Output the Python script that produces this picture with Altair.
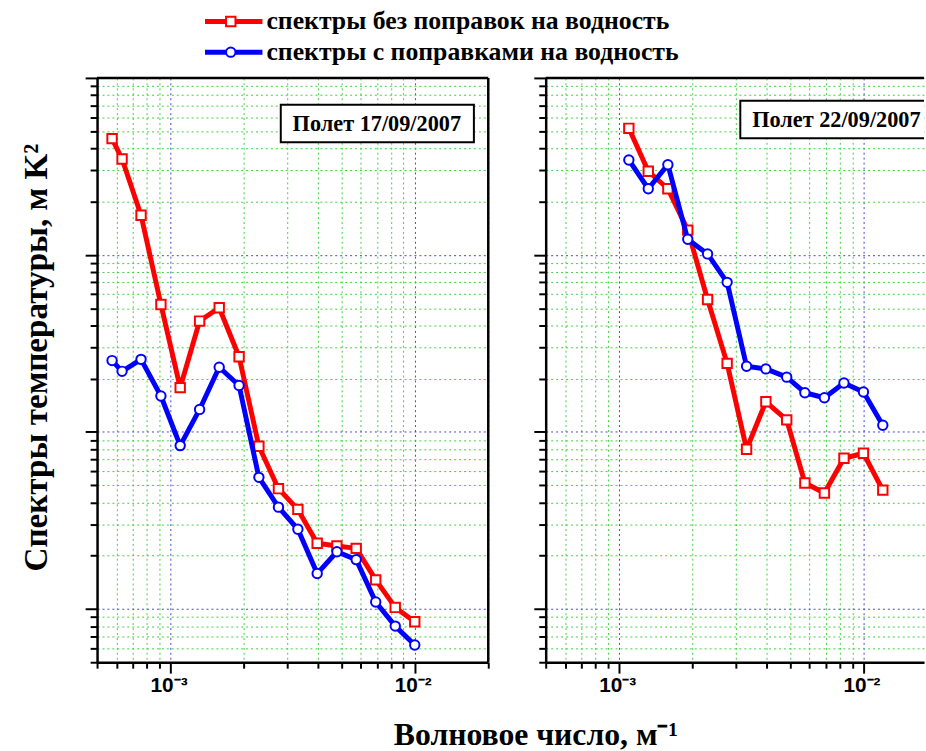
import altair as alt
import pandas as pd

# ---------------- data ----------------
series_names = ["спектры без поправок на водность", "спектры с поправками на водность"]
series_colors = ["#ff0000", "#0000ff"]
series_shapes = ["square", "circle"]
legend_rows = [0, 1]
panel_titles = ["Полет 17/09/2007", "Полет 22/09/2007"]

k_left = [5.76e-4, 6.33e-4, 7.57e-4, 9.13e-4, 1.095e-3, 1.315e-3, 1.582e-3, 1.908e-3,
          2.30e-3, 2.766e-3, 3.322e-3, 3.985e-3, 4.80e-3, 5.757e-3, 6.92e-3, 8.32e-3, 1.0e-2]
red_left = [454, 348, 167.5, 52.5, 17.8, 42.3, 50.3, 26.6, 8.3, 4.78, 3.65, 2.35, 2.27,
            2.20, 1.46, 1.02, 0.846]
blue_left = [25.3, 22.0, 25.7, 15.96, 8.37, 13.4, 23.2, 18.3, 5.54, 3.76, 2.82, 1.585,
             2.105, 1.90, 1.094, 0.80, 0.626]

k_right = [1.095e-3, 1.315e-3, 1.582e-3, 1.908e-3, 2.30e-3, 2.766e-3, 3.322e-3, 3.985e-3,
           4.85e-3, 5.757e-3, 6.92e-3, 8.32e-3, 1.0e-2, 1.2e-2]
red_right = [519, 297, 236.5, 138, 56, 24.4, 7.98, 14.8, 11.7, 5.15, 4.52, 7.1, 7.58, 4.69]
blue_right = [344, 236.5, 323.5, 122.5, 101.3, 70, 23.5, 22.7, 20.4, 16.65, 15.6, 18.9, 16.8, 10.9]

x_ticks_left = [5e-4, 6e-4, 7e-4, 8e-4, 9e-4, 1e-3, 2e-3, 3e-3, 4e-3, 5e-3, 6e-3, 7e-3,
                8e-3, 9e-3, 1e-2, 2e-2]
x_ticks_right = [5e-4, 6e-4, 7e-4, 8e-4, 9e-4, 1e-3, 2e-3, 3e-3, 4e-3, 5e-3, 6e-3, 7e-3,
                 8e-3, 9e-3, 1e-2]
y_ticks = [0.5, 0.6, 0.7, 0.8, 0.9, 1, 2, 3, 4, 5, 6, 7, 8, 9, 10, 20, 30, 40, 50, 60, 70,
           80, 90, 100, 200, 300, 400, 500, 600, 700, 800, 900, 1000]
x_label_text = {"0.001": "10⁻³", "0.01": "10⁻²"}

y_title = "Спектры температуры, м K²"
x_title = "Волновое число, м⁻¹"

# ---------------- layout ----------------
PAD_L = 19
PLOT_L = 94          # absolute x of the left plot area
PANEL_H = 590
LEFT_W = 395
RIGHT_W = 382
SERIF = "Liberation Serif"
SANS = "Liberation Sans"

X_MAJOR = "datum.value == 0.001 || datum.value == 0.01"
Y_MAJOR = "datum.value == 1 || datum.value == 10 || datum.value == 100 || datum.value == 1000"
GRID_MINOR = "#3fd03f"
GRID_MAJOR = "#4545d8"

label_expr = ("datum.value == 0.001 ? '" + x_label_text["0.001"] + "' : "
              "(datum.value == 0.01 ? '" + x_label_text["0.01"] + "' : '')")


def x_axis(vals):
    return alt.Axis(
        values=vals, labelExpr=label_expr, labelFont=SANS, labelFontWeight="bold",
        labelFontSize=21, labelColor="black", labelPadding=2, labelOverlap=False,
        labelFlush=False, labelBound=False, labelOffset=-2,
        tickColor="black", tickWidth=2,
        tickSize={"condition": {"test": X_MAJOR, "value": 11}, "value": 6},
        domainColor="black", domainWidth=2.5,
        grid=True, gridWidth=1, gridDash=[2, 3],
        gridColor={"condition": {"test": X_MAJOR, "value": GRID_MAJOR}, "value": GRID_MINOR},
        title=None,
    )


def y_axis(with_title):
    kw = dict(
        values=y_ticks, labels=False,
        tickColor="black", tickWidth=2,
        tickSize={"condition": {"test": Y_MAJOR, "value": 12}, "value": 7},
        domainColor="black", domainWidth=2.5,
        grid=True, gridWidth=1, gridDash=[2, 3],
        gridColor={"condition": {"test": Y_MAJOR, "value": GRID_MAJOR}, "value": GRID_MINOR},
    )
    if with_title:
        kw.update(title=y_title, titleFont=SERIF, titleFontSize=33.5, titleFontWeight="bold",
                  titleColor="black", titleAngle=270, titleX=-61, titleY=282,
                  titleAlign="center", titleBaseline="middle")
    else:
        kw.update(title=None)
    return alt.Axis(**kw)


def panel(ks, reds, blues, xmax, xvals, width, with_ytitle, title_text, box_x, box_y, clip):
    df = pd.DataFrame({
        "k": ks + ks,
        "S": reds + blues,
        "series": [series_names[0]] * len(ks) + [series_names[1]] * len(ks),
    })
    x = alt.X("k:Q", scale=alt.Scale(type="log", domain=[5e-4, xmax]), axis=x_axis(xvals))
    y = alt.Y("S:Q", scale=alt.Scale(type="log", domain=[0.5, 1000]), axis=y_axis(with_ytitle))
    base = alt.Chart(df)
    layers = []
    for name, col, shp in zip(series_names, series_colors, series_shapes):
        sub = base.transform_filter(alt.datum.series == name)
        layers.append(sub.mark_line(color=col, strokeWidth=5, strokeJoin="round").encode(x=x, y=y))
        layers.append(sub.mark_point(shape=shp, size=90, filled=True, fill="white", stroke=col,
                                     strokeWidth=2, opacity=1).encode(x=x, y=y))
    tdf = pd.DataFrame({"label": [title_text]})
    tb = alt.Chart(tdf)
    box = tb.mark_rect(fill="white", stroke="black", strokeWidth=2, clip=clip).encode(
        x=alt.value(box_x - 97), x2=alt.value(box_x + 98),
        y=alt.value(box_y - 19), y2=alt.value(box_y + 19))
    txt = tb.mark_text(font=SERIF, fontSize=22.5, fontWeight="bold", color="black",
                       align="center", baseline="middle", clip=clip).encode(
        x=alt.value(box_x), y=alt.value(box_y + 1), text="label:N")
    frame = [tb.mark_rule(color="black", strokeWidth=2.5).encode(
        x=alt.value(0), x2=alt.value(width), y=alt.value(0))]
    if not clip:
        frame.append(tb.mark_rule(color="black", strokeWidth=2.5).encode(
            x=alt.value(width), y=alt.value(0), y2=alt.value(PANEL_H)))
    return alt.layer(*layers, box, txt, *frame).properties(width=width, height=PANEL_H)


left = panel(k_left, red_left, blue_left, 2e-2, x_ticks_left, LEFT_W, True, panel_titles[0],
             282.5, 46, False)
right = panel(k_right, red_right, blue_right, 0.0177, x_ticks_right, RIGHT_W, False,
              panel_titles[1], 293.5, 42, True)

# ---------------- legend (top) ----------------
ldf = pd.DataFrame({"series": series_names, "row": legend_rows})
ly = alt.Y("row:Q", scale=alt.Scale(domain=[0, 1], range=[18, 49]), axis=None)
lbase = alt.Chart(ldf)
color_scale = alt.Scale(domain=series_names, range=series_colors)
leg_line = lbase.mark_rule(strokeWidth=5).encode(
    x=alt.value(203 - PLOT_L), x2=alt.value(261 - PLOT_L), y=ly,
    color=alt.Color("series:N", scale=color_scale, legend=None))
leg_pts = lbase.mark_point(size=90, filled=True, fill="white", strokeWidth=2, opacity=1).encode(
    x=alt.value(229 - PLOT_L), y=ly,
    stroke=alt.Stroke("series:N", scale=color_scale, legend=None),
    shape=alt.Shape("series:N", scale=alt.Scale(domain=series_names, range=series_shapes), legend=None))
leg_txt = lbase.mark_text(font=SERIF, fontSize=26, fontWeight="bold", color="black",
                          align="left", baseline="middle").encode(
    x=alt.value(265 - PLOT_L), y=ly, text="series:N")
legend = alt.layer(leg_line, leg_pts, leg_txt).properties(width=600, height=64)

chart = alt.vconcat(
    legend,
    alt.hconcat(left, right, spacing=43),
    spacing=9,
).properties(
    padding={"left": PAD_L, "top": 0, "right": 0, "bottom": 0},
    background="white",
    title=alt.TitleParams(text=x_title, orient="bottom", anchor="middle", dx=64,
                          font=SERIF, fontSize=32, fontWeight="bold", color="black", offset=25),
).configure_view(stroke="transparent", strokeWidth=0)

chart.save("out.html", embed_options={"renderer": "svg", "actions": False})
